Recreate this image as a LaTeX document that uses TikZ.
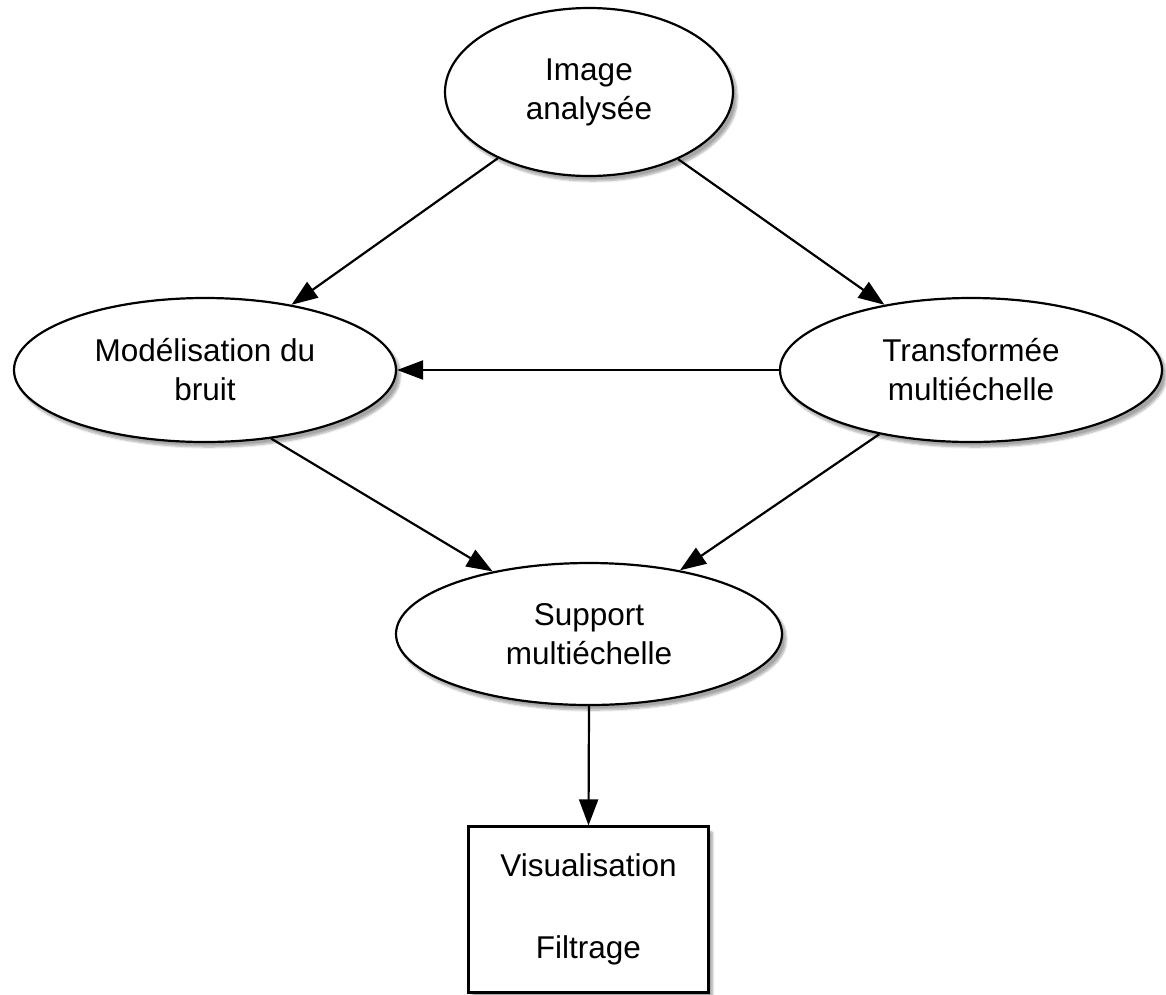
\documentclass[tikz,border=0pt]{standalone}
\usepackage{fontspec}
\setmainfont{Liberation Sans}
\usetikzlibrary{shapes.geometric,arrows.meta,shadows.blur}
\begin{document}
\begin{tikzpicture}[x=1pt,y=-1pt,
  lbl/.style={font=\fontsize{31.5}{39}\selectfont, align=center, inner sep=0pt, line width=2.2pt, draw=black, fill=white,
    blur shadow={shadow xshift=4pt, shadow yshift=-5pt, shadow blur steps=8, shadow blur extra rounding=2pt, shadow opacity=35}},
  ell/.style={lbl, ellipse},
  boxnode/.style={lbl, rectangle},
  conn/.style={line width=2.2pt, -{Triangle[length=26pt,width=19pt]}}]
\useasboundingbox (0,0) rectangle (1166,994);
\node[ell, minimum width=288pt, minimum height=168pt] (img) at (589,92) {Image\\analysée};
\node[ell, minimum width=382pt, minimum height=144pt] (mod) at (205,370) {Modélisation du\\bruit};
\node[ell, minimum width=382pt, minimum height=144pt] (tra) at (971,370) {Transformée\\multiéchelle};
\node[ell, minimum width=386pt, minimum height=142pt] (sup) at (589,634) {Support\\multiéchelle};
\node[boxnode, minimum width=240pt, minimum height=166pt] (vis) at (588.5,909.5) {Visualisation\\[43pt]Filtrage};
\draw[conn] (img.-144) -- (mod.37);
\draw[conn] (img.-37) -- (tra.143);
\draw[conn] (tra.west) -- (mod.east);
\draw[conn] (mod.-46) -- (sup.147);
\draw[conn] (tra.-145) -- (sup.35);
\draw[conn] (sup.south) -- (vis.north);
\end{tikzpicture}
\end{document}
